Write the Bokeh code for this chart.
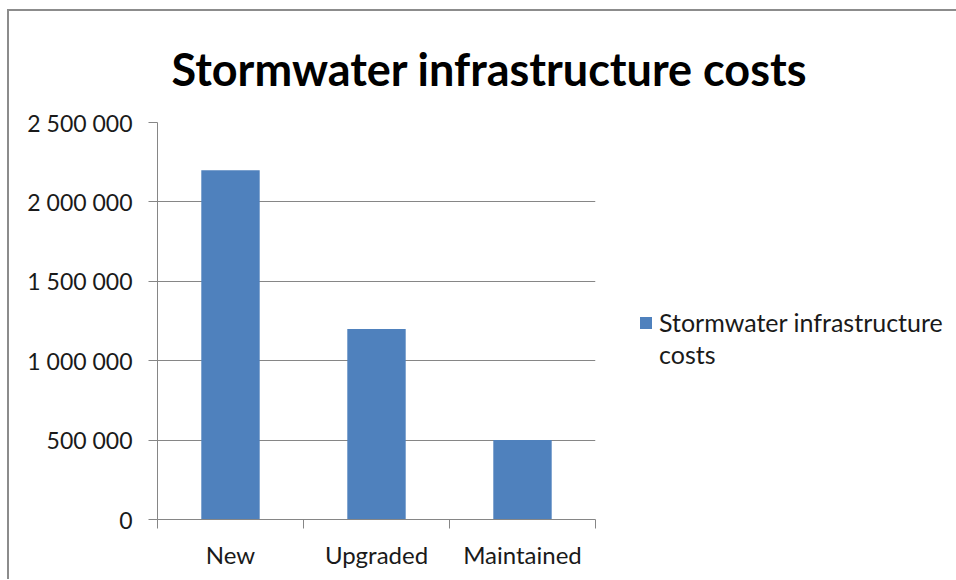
from bokeh.plotting import figure
from bokeh.models import FixedTicker, Legend, LegendItem, Range1d, Title
from bokeh.embed import file_html
from bokeh.resources import INLINE

categories = ["New", "Upgraded", "Maintained"]
costs = [2200000, 1200000, 500000]
series_name = "Stormwater infrastructure costs"
y_ticks = [0, 500000, 1000000, 1500000, 2000000, 2500000]

FONT = "Lato"
GRID = "#868686"
TEXT = "#1a1a1a"
BAR = "#4F81BD"

x_centers = [i + 0.5 for i in range(len(categories))]
x_bounds = [float(i) for i in range(len(categories) + 1)]

p = figure(frame_width=438, frame_height=397, output_backend="svg", toolbar_location=None,
           x_range=Range1d(0, len(categories)), y_range=Range1d(0, y_ticks[-1]),
           min_border_left=148, min_border_right=345, min_border_top=111, min_border_bottom=60)
p.styles = {"margin-left": "7px", "margin-top": "9px",
            "border-top": "2px solid #8c8c8c", "border-left": "2px solid #8c8c8c"}
p.outline_line_color = None
p.background_fill_color = "white"
p.border_fill_color = "white"

bars = p.vbar(x=x_centers, top=costs, width=0.4, fill_color=BAR, line_color=None)
blank = p.vbar(x=[], top=[], width=0.4, fill_alpha=0, line_alpha=0)

# y axis
ya = p.yaxis[0]
ya.ticker = FixedTicker(ticks=y_ticks, minor_ticks=[])
ya.major_label_overrides = {v: f"{v:,}".replace(",", " ") for v in y_ticks}
ya.major_tick_out = 9
ya.major_tick_in = 0
ya.minor_tick_out = 0
ya.minor_tick_in = 0
ya.axis_line_color = GRID
ya.major_tick_line_color = GRID
ya.major_label_standoff = 16
ya.major_label_text_font = FONT
ya.major_label_text_font_size = "23px"
ya.major_label_text_color = TEXT

# x axis
xa = p.xaxis[0]
xa.ticker = FixedTicker(ticks=x_centers, minor_ticks=x_bounds)
xa.major_label_overrides = {x_centers[i]: categories[i] for i in range(len(categories))}
xa.major_tick_out = 0
xa.major_tick_in = 0
xa.minor_tick_out = 9
xa.minor_tick_in = 0
xa.axis_line_color = GRID
xa.minor_tick_line_color = GRID
xa.major_label_standoff = 11
xa.major_label_text_font = FONT
xa.major_label_text_font_size = "24px"
xa.major_label_text_color = TEXT

p.xgrid.visible = False
p.ygrid.ticker = FixedTicker(ticks=y_ticks, minor_ticks=[])
p.ygrid.grid_line_color = GRID

title = Title(text=series_name, align="left", offset=14, standoff=54,
              text_font=FONT, text_font_style="bold", text_font_size="45px",
              text_color="#000000")
p.add_layout(title, "above")

line1, line2 = series_name.rsplit(" ", 1)
legend = Legend(items=[LegendItem(label=line1, renderers=[bars]),
                       LegendItem(label=line2, renderers=[blank])],
                location=(43, 150), padding=0, margin=0, spacing=2,
                glyph_width=15, glyph_height=15, label_height=24, label_standoff=6,
                label_text_font=FONT, label_text_font_size="25px", label_text_color=TEXT,
                border_line_alpha=0, background_fill_alpha=0)
p.add_layout(legend, "right")

open("out.html", "w").write(file_html(p, INLINE))
